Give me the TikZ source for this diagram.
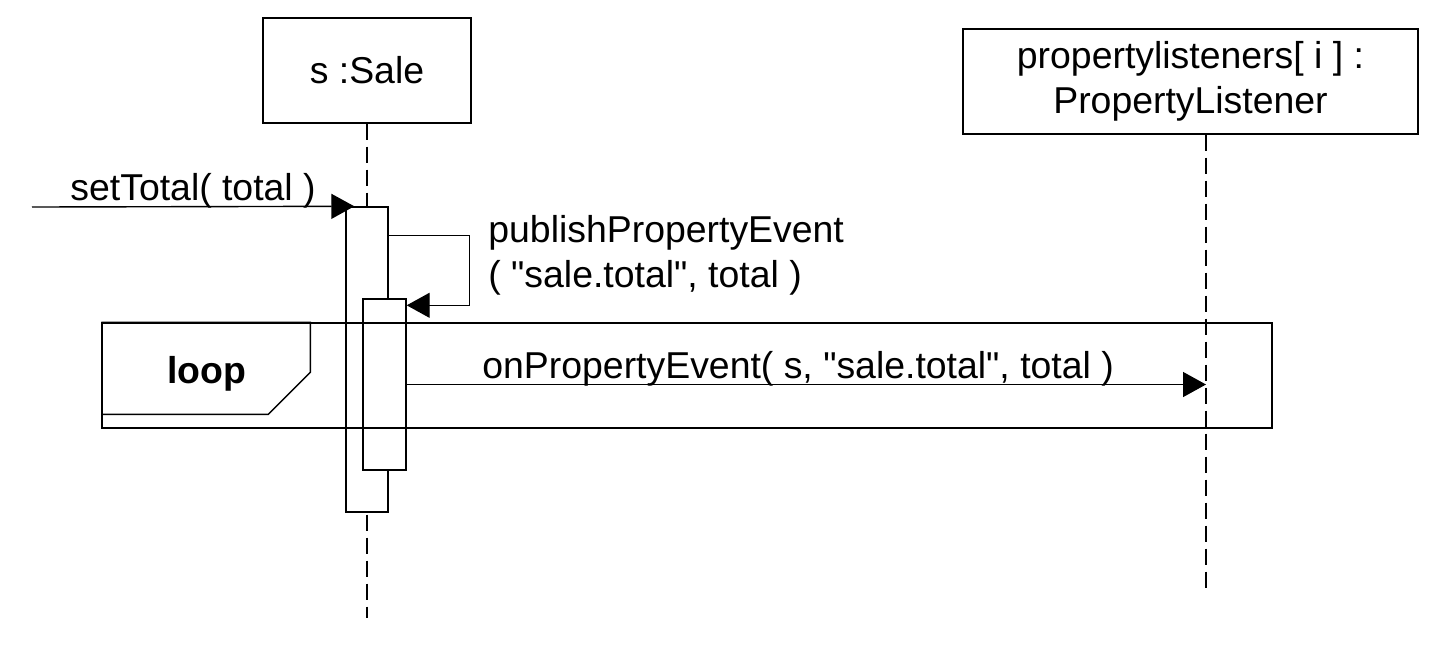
\documentclass[tikz,border=0pt]{standalone}
\usepackage{fontspec}
\setmainfont{Liberation Sans}
\usetikzlibrary{arrows.meta,positioning,calc}
\tikzset{
    obj/.style={
           rectangle,
           draw=black, line width=0.7pt,
           minimum width=104pt,
           minimum height=52.5pt,
           inner sep=0pt,
           align=center,
           font=\fontsize{18.7}{22.5}\selectfont,
           },
    act/.style={
           rectangle,
           draw=black, fill=white, line width=0.7pt,
           minimum width=21pt,
           inner sep=0pt,},
    msg/.style={
           -{Triangle[length=11.5pt,width=12.5pt]},
           line width=0.7pt,},
    life/.style={
           dash pattern=on 8pt off 3.5pt,
           line width=0.7pt,},
    lbl/.style={
           font=\fontsize{18.7}{22.5}\selectfont,
           inner sep=0pt,
           align=left,}
}

\begin{document}
\begin{tikzpicture}[x=0.5pt,y=-0.5pt]
\useasboundingbox (0,0) rectangle (1434,650);
% Objects (SALE, PL)
\node[obj] (SALE) at (367,70.5) {s :Sale};
\node[obj, minimum width=227.5pt] (PL) at (1190.5,81.5)
{propertylisteners[ i ] :\\PropertyListener};
% Lifelines
\coordinate (SALEEND) at (367,618);
\coordinate (PLTOP) at ([xshift=7.75pt]PL.south);
\coordinate (PLEND) at (1206,588);
\draw[life] (SALE) -- (SALEEND);
\draw[life] (PLTOP) -- (PLEND);
% Activations
\node[act, minimum height=152.5pt] (ACT1) at (367,359.5) {};
\node[act, minimum width=21.5pt, minimum height=85.5pt] (ACT2) at (384.5,384.5) {};
% Loop frame
\node[draw, line width=0.7pt, minimum width=585pt, minimum height=52.5pt,
inner sep=0pt] (LOOP) at (687,375.5) {};
\draw[line width=0.7pt] (LOOP.north west) -- ++(209,0) -- ++(0,50)
-- ++(-42,42) -- ++(-167,0);
\node[font=\bfseries\fontsize{18.7}{22.5}\selectfont, inner sep=0pt,
anchor=base] (LOOPLBL) at (206.5,383) {loop};
% Messages
\coordinate (CALLER) at (32,207);
\draw[msg, shorten >=-4.5pt] (CALLER) -- (ACT1.north west);
\draw[msg] ([yshift=-14.5pt]ACT1.north east) -- ++(81,0)
|- ([yshift=-3.5pt]ACT2.north east);
\draw[msg] (ACT2.east) -- (ACT2.east -| PLTOP);
% Message labels
\node[lbl, anchor=base west] (SETLBL) at (70,200) {setTotal( total )};
\node[lbl, anchor=north west] (PUBLBL) at (488,215)
{publishPropertyEvent\\( \textquotedbl sale.total\textquotedbl, total )};
\node[lbl, anchor=base west] (ONLBL) at (482,378)
{onPropertyEvent( s, \textquotedbl sale.total\textquotedbl, total )};
\end{tikzpicture}
\end{document}
